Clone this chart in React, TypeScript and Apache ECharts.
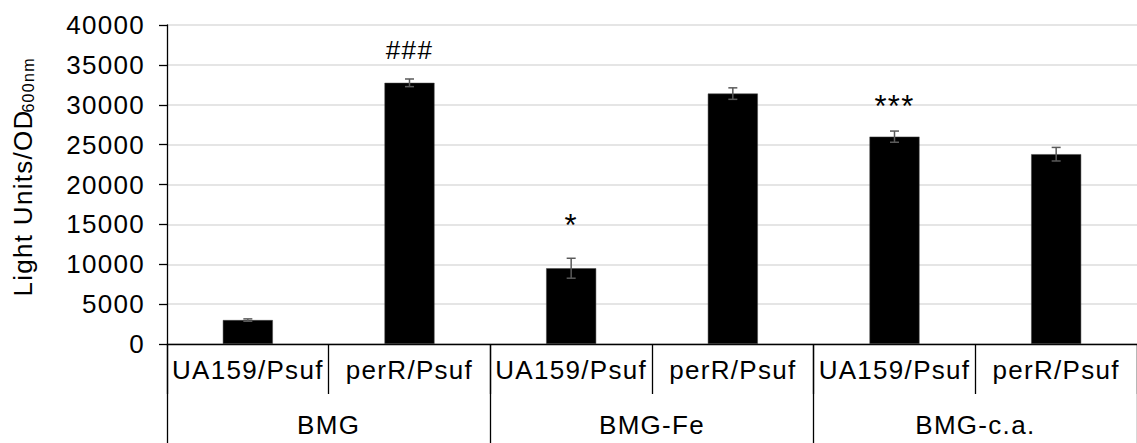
import React, { useEffect, useRef } from "react";
import * as echarts from "echarts";

const categories = ["UA159/Psuf", "perR/Psuf", "UA159/Psuf", "perR/Psuf", "UA159/Psuf", "perR/Psuf"];
const groups = ["BMG", "BMG-Fe", "BMG-c.a."];
const values = [3000, 32750, 9500, 31400, 26000, 23800];
const errors = [150, 480, 1250, 720, 700, 850];
const annotations = ["", "###", "*", "", "***", ""];
const annotationValues = [0, 36900, 14900, 0, 29800, 0];
const yTicks = { min: 0, max: 40000, interval: 5000 };

const FONT = "'Liberation Sans', Arial, sans-serif";
const LS = 1.3;

export default function App() {
  const ref = useRef<HTMLDivElement>(null);
  useEffect(() => {
    document.body.style.margin = "0";
    const chart = echarts.init(ref.current!, null, { renderer: "svg" });
    const errData = values.map((v, i) => [i, v - errors[i], v + errors[i]]);
    const annData = annotations
      .map((t, i) => (t ? [i, annotationValues[i]] : null))
      .filter((d) => d !== null);
    const mainTitle = "Light Units/OD";
    const ctx = document.createElement("canvas").getContext("2d")!;
    ctx.font = `26px ${FONT}`;
    const mainW = ctx.measureText(mainTitle).width + mainTitle.length * LS;
    chart.setOption({
      animation: false,
      backgroundColor: "#fff",
      textStyle: { fontFamily: FONT },
      grid: { left: 167, right: -6, top: 25, bottom: 99, containLabel: false },
      xAxis: [
        {
          type: "category",
          data: categories,
          position: "bottom",
          axisLine: { show: true, lineStyle: { color: "#000", width: 1.3 } },
          axisTick: { show: true, length: 50, lineStyle: { color: "#000", width: 1.3 } },
          axisLabel: { interval: 0, margin: 13, fontSize: 26, color: "#000", fontFamily: FONT },
          splitLine: { show: false },
        },
        {
          type: "category",
          data: groups,
          position: "bottom",
          axisLine: { show: false },
          axisTick: { show: true, length: 100, lineStyle: { color: "#000", width: 1.3 } },
          axisLabel: { interval: 0, margin: 68, fontSize: 26, color: "#000", fontFamily: FONT },
          splitLine: { show: false },
        },
      ],
      yAxis: {
        type: "value",
        min: yTicks.min,
        max: yTicks.max,
        interval: yTicks.interval,
        axisLine: { show: true, lineStyle: { color: "#000", width: 1.3 } },
        axisTick: { show: true, length: 8, lineStyle: { color: "#000", width: 1.3 } },
        axisLabel: {
          margin: 22,
          fontSize: 26,
          color: "#000",
          fontFamily: FONT,
          formatter: (v: number) => String(v),
        },
        splitLine: { show: true, lineStyle: { color: "#dcdcdc", width: 1.5 } },
        name: "{a|" + mainTitle + "}{b|600nm}",
        nameLocation: "middle",
        nameRotate: 90,
        nameGap: 131,
        nameTextStyle: {
          color: "#000",
          fontFamily: FONT,
          padding: [0, 0, 0, 12],
          rich: {
            a: { fontSize: 26, color: "#000", fontFamily: FONT, width: mainW },
            b: { fontSize: 16, color: "#000", fontFamily: FONT, verticalAlign: "bottom" },
          },
        },
      },
      series: [
        {
          type: "bar",
          xAxisIndex: 0,
          data: values,
          barWidth: 50,
          itemStyle: { color: "#000", borderColor: "#444", borderWidth: 0.5 },
        },
        {
          type: "custom",
          xAxisIndex: 0,
          data: errData,
          z: 10,
          renderItem: (params: any, api: any) => {
            const i = api.value(0);
            const lo = api.coord([i, api.value(1)]);
            const hi = api.coord([i, api.value(2)]);
            const cap = 4.5;
            const style = { stroke: "#5a5a5a", lineWidth: 1.5 };
            return {
              type: "group",
              children: [
                { type: "line", shape: { x1: lo[0], y1: lo[1], x2: hi[0], y2: hi[1] }, style },
                { type: "line", shape: { x1: hi[0] - cap, y1: hi[1], x2: hi[0] + cap, y2: hi[1] }, style },
                { type: "line", shape: { x1: lo[0] - cap, y1: lo[1], x2: lo[0] + cap, y2: lo[1] }, style },
              ],
            };
          },
        },
        {
          type: "custom",
          xAxisIndex: 0,
          data: annData,
          z: 11,
          renderItem: (params: any, api: any) => {
            const i = api.value(0);
            const p = api.coord([i, api.value(1)]);
            const text = annotations[i];
            const isStar = text.indexOf("*") >= 0;
            return {
              type: "text",
              x: p[0],
              y: p[1],
              style: {
                text,
                fontSize: isStar ? 31 : 26,
                fontFamily: FONT,
                fill: "#000",
                align: "center",
                verticalAlign: "middle",
              },
            };
          },
        },
      ],
    });
    return () => chart.dispose();
  }, []);
  return (
    <div
      ref={ref}
      style={{ position: "fixed", left: 0, top: 0, width: 1137, height: 443, letterSpacing: LS + "px" }}
    />
  );
}
